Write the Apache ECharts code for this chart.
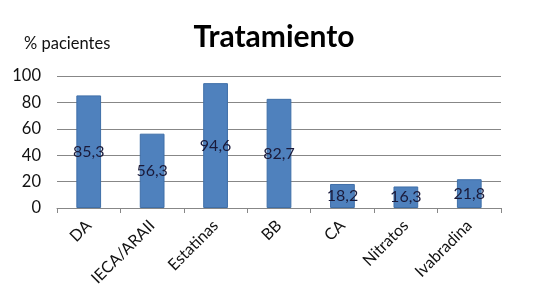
<!DOCTYPE html>
<html><head><meta charset="utf-8">
<script src="https://cdn.jsdelivr.net/npm/echarts@6/dist/echarts.min.js"></script>
<style>html,body{margin:0;padding:0;background:#fff}#c{width:543px;height:304px}</style>
</head><body><div id="c"></div>
<script>
const categories = ["DA","IECA/ARAII","Estatinas","BB","CA","Nitratos","Ivabradina"];
const values = [85.3,56.3,94.6,82.7,18.2,16.3,21.8];
const yTicks = [0,20,40,60,80,100];
const FONT = "Lato, 'Open Sans', sans-serif";
const chart = echarts.init(document.getElementById('c'));
chart.setOption({
  animation:false,
  title:[
    {text:"Tratamiento",left:269,top:17,textAlign:'center',textStyle:{fontFamily:FONT,fontWeight:'bold',fontSize:30,color:'#000'}},
    {text:"% pacientes",left:19,top:30,textStyle:{fontFamily:FONT,fontWeight:'normal',fontSize:16.5,color:'#111'}}
  ],
  grid:{left:57,right:42,top:76,bottom:96},
  xAxis:{type:'category',data:categories,
    axisLine:{lineStyle:{color:'#878787'}},
    axisTick:{show:true,length:5,lineStyle:{color:'#878787'}},
    axisLabel:{rotate:45,fontFamily:FONT,fontSize:16,color:'#111',margin:15,interval:0}},
  yAxis:{type:'value',min:yTicks[0],max:yTicks[yTicks.length-1],interval:20,
    axisLine:{show:false},axisTick:{show:false},
    splitLine:{lineStyle:{color:'#878787'}},
    axisLabel:{fontFamily:FONT,fontSize:16.5,color:'#111',margin:16}},
  series:[{type:'bar',data:values,barWidth:'39%',
    itemStyle:{color:'#4f81bd',borderColor:'#3f6fa8',borderWidth:1},
    label:{show:true,position:'inside',fontFamily:FONT,fontSize:16,color:'#1a1a3a',
      formatter:p=>String(p.value).replace('.',',')}}]
});
</script></body></html>
